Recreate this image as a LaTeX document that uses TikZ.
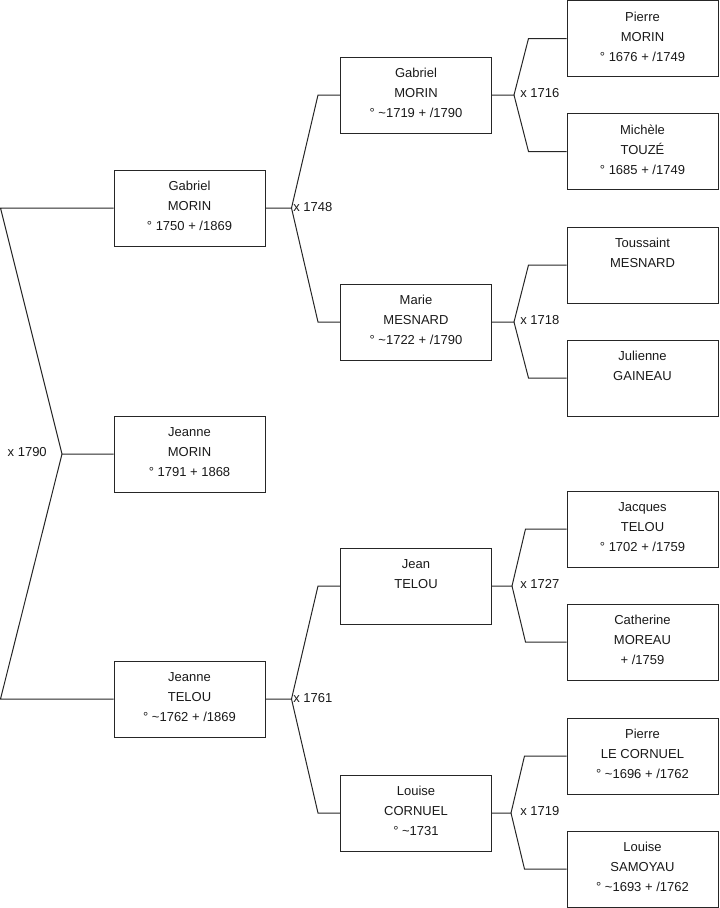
\documentclass[tikz,border=0pt]{standalone}
\usepackage{fontspec}
\setmainfont{Liberation Sans}
\usetikzlibrary{calc}
\newcommand{\pp}[3]{\rule{0pt}{10pt}#1\\#2\\#3\rule[-6pt]{0pt}{0pt}}
\begin{document}
\begin{tikzpicture}[x=0.75pt,y=-0.75pt,
  person/.style={draw=black!85,line width=0.75pt,minimum width=113.25pt,minimum height=57pt,inner sep=0pt,align=center,text=black!90,font=\fontsize{9.75}{15}\selectfont},
  link/.style={draw=black!85,line width=0.75pt},
  mariage/.style={font=\fontsize{9.75}{15}\selectfont,inner sep=0pt,text=black!90}]
\useasboundingbox (0,0) rectangle (719,908);

% level 1
\node[person] (g1) at (189.5,208) {\pp{Gabriel}{MORIN}{° 1750 + /1869}};
\node[person] (jm) at (189.5,454) {\pp{Jeanne}{MORIN}{° 1791 + 1868}};
\node[person] (jt) at (189.5,699) {\pp{Jeanne}{TELOU}{° \textasciitilde1762 + /1869}};

% level 2
\node[person] (g2) at (416,95) {\pp{Gabriel}{MORIN}{° \textasciitilde1719 + /1790}};
\node[person] (mm) at (416,322) {\pp{Marie}{MESNARD}{° \textasciitilde1722 + /1790}};
\node[person] (jn) at (416,586) {\pp{Jean}{TELOU}{}};
\node[person] (lc) at (416,813) {\pp{Louise}{CORNUEL}{° \textasciitilde1731}};

% level 3
\node[person] (pm) at (642.5,38.5) {\pp{Pierre}{MORIN}{° 1676 + /1749}};
\node[person] (mt) at (642.5,151.5) {\pp{Michèle}{TOUZÉ}{° 1685 + /1749}};
\node[person] (tm) at (642.5,265) {\pp{Toussaint}{MESNARD}{}};
\node[person] (jg) at (642.5,378) {\pp{Julienne}{GAINEAU}{}};
\node[person] (jq) at (642.5,529) {\pp{Jacques}{TELOU}{° 1702 + /1759}};
\node[person] (cm) at (642.5,642) {\pp{Catherine}{MOREAU}{+ /1759}};
\node[person] (pl) at (642.5,756) {\pp{Pierre}{LE CORNUEL}{° \textasciitilde1696 + /1762}};
\node[person] (ls) at (642.5,869) {\pp{Louise}{SAMOYAU}{° \textasciitilde1693 + /1762}};

% root fork
\coordinate (r) at (62,454);
\draw[link] (g1.west) -- ($(g1.west)+(-113,0)$) -- (r) -- (jm.west);
\draw[link] (r) -- ($(jt.west)+(-113,0)$) -- (jt.west);
\node[mariage,anchor=east] (x0) at (47,452) {x 1790};

% level 1 -> 2 forks
\coordinate (fa) at (291.5,208);
\draw[link] (g1.east) -- (fa) -- ($(g2.west)+(-22,0)$) -- (g2.west);
\draw[link] (fa) -- ($(mm.west)+(-22,0)$) -- (mm.west);
\node[mariage,anchor=west] (xa) at (293,207) {x 1748};

\coordinate (fb) at (291.5,699);
\draw[link] (jt.east) -- (fb) -- ($(jn.west)+(-22,0)$) -- (jn.west);
\draw[link] (fb) -- ($(lc.west)+(-22,0)$) -- (lc.west);
\node[mariage,anchor=west] (xb) at (293,698) {x 1761};

% level 2 -> 3 forks
\coordinate (fc) at (514,95);
\draw[link] (g2.east) -- (fc) -- ($(pm.west)+(-38,0)$) -- (pm.west);
\draw[link] (fc) -- ($(mt.west)+(-38,0)$) -- (mt.west);
\node[mariage,anchor=west] (xc) at (520,93) {x 1716};

\coordinate (fd) at (514,322);
\draw[link] (mm.east) -- (fd) -- ($(tm.west)+(-38,0)$) -- (tm.west);
\draw[link] (fd) -- ($(jg.west)+(-38,0)$) -- (jg.west);
\node[mariage,anchor=west] (xd) at (520,320) {x 1718};

\coordinate (fe) at (512,586);
\draw[link] (jn.east) -- (fe) -- ($(jq.west)+(-41,0)$) -- (jq.west);
\draw[link] (fe) -- ($(cm.west)+(-41,0)$) -- (cm.west);
\node[mariage,anchor=west] (xe) at (520,584) {x 1727};

\coordinate (ff) at (511,813);
\draw[link] (lc.east) -- (ff) -- ($(pl.west)+(-42,0)$) -- (pl.west);
\draw[link] (ff) -- ($(ls.west)+(-42,0)$) -- (ls.west);
\node[mariage,anchor=west] (xf) at (520,811) {x 1719};
\end{tikzpicture}
\end{document}
